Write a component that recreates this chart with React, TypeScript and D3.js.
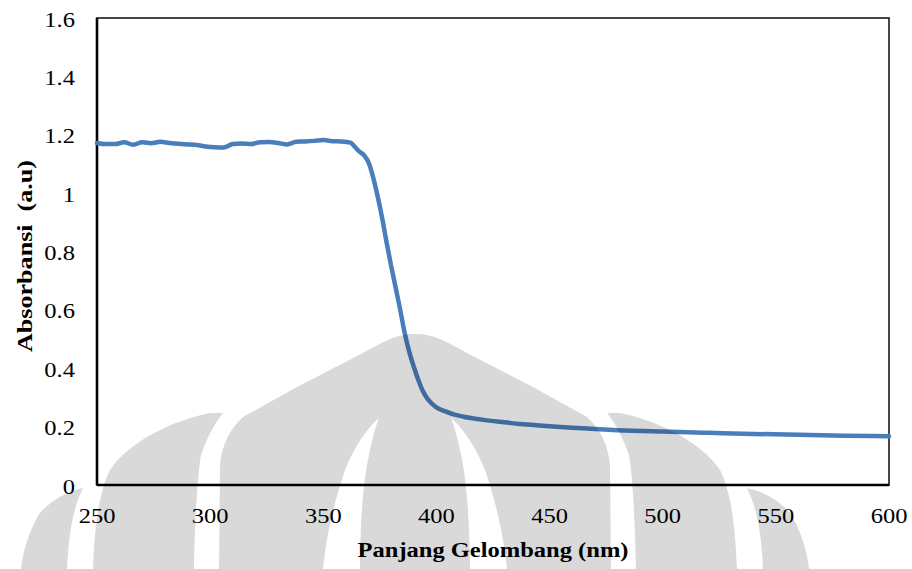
import React from 'react';
import * as d3 from 'd3';

const wavelength = [
  250, 254, 258, 262, 266, 270, 274, 278, 282, 286, 290, 294, 298, 302, 306,
  310, 314, 318, 322, 326, 330, 334, 338, 342, 346, 350, 354, 358, 362, 364,
  366, 368, 370, 372, 374, 376, 378, 380, 382, 384, 386, 388, 390, 392, 394,
  396, 398, 400, 404, 408, 412, 420, 430, 440, 450, 460, 470, 480, 500, 520,
  540, 560, 580, 600,
];
const absorbance = [
  1.172, 1.168, 1.168, 1.174, 1.166, 1.174, 1.171, 1.176, 1.172, 1.169, 1.167,
  1.165, 1.16, 1.157, 1.156, 1.168, 1.17, 1.168, 1.174, 1.175, 1.172, 1.167,
  1.176, 1.177, 1.179, 1.182, 1.178, 1.177, 1.173, 1.158, 1.142, 1.13, 1.105,
  1.055, 0.99, 0.915, 0.83, 0.75, 0.676, 0.6, 0.52, 0.456, 0.405, 0.36, 0.322,
  0.296, 0.279, 0.266, 0.252, 0.241, 0.234, 0.224, 0.215, 0.207, 0.201, 0.196,
  0.192, 0.188, 0.183, 0.179, 0.175, 0.172, 0.169, 0.167,
];
const xTicks = [250, 300, 350, 400, 450, 500, 550, 600];
const yTicks = [0, 0.2, 0.4, 0.6, 0.8, 1, 1.2, 1.4, 1.6];

const width = 912;
const height = 569;
const margin = { top: 18, right: 20, bottom: 84, left: 97 };
const font = '"Liberation Serif", "Times New Roman", serif';
const stretch = 1.14;

// watermark logo, drawn as right halves mirrored about logoCx
const logoCx = 415;
const dropPath =
  'M0,334 C20,334 32,342 52,353 L118,387 L172,417 C186,430 193,445 195,465 L196,569 L-196,569 L-195,465 C-193,445 -186,430 -172,417 L-118,387 L-52,353 C-32,342 -20,334 0,334 Z';
const crescentPath =
  'M36,418 C50,430 62,450 70,470 C80,500 88,530 92,569 L55,569 C55,530 52,480 46,455 C43,440 40,428 36,418 Z';
const wingPath =
  'M192,413 L205,413 C240,420 285,440 305,470 C315,490 320,520 322,569 L221,569 C220,520 218,480 214,455 C208,438 201,424 192,413 Z';
const featherPath =
  'M332,488 C350,492 366,502 376,514 C386,532 392,550 394,569 L348,569 C347,540 343,510 332,488 Z';

export default function App() {
  const x = d3
    .scaleLinear()
    .domain([250, 600])
    .range([margin.left, width - margin.right - 3]);
  const y = d3
    .scaleLinear()
    .domain([0, 1.6])
    .range([height - margin.bottom, margin.top]);

  const data = wavelength.map((w, i) => [w, absorbance[i]] as [number, number]);
  const line = d3
    .line<[number, number]>()
    .x(d => x(d[0]))
    .y(d => y(d[1]))
    .curve(d3.curveMonotoneX);

  const x0 = x(250);
  const x1 = x(600);
  const y0 = y(0);
  const y1 = y(1.6);

  return (
    <svg
      width={width}
      height={height}
      style={{ position: 'absolute', left: 0, top: 0, background: '#fff' }}>
      <rect x={0} y={0} width={width} height={height} fill='#fff' />
      <rect
        x={x0}
        y={y1}
        width={x1 - x0}
        height={y0 - y1}
        fill='none'
        stroke='#333'
        strokeWidth={1.8}
      />
      <line x1={x0} x2={x0} y1={y1} y2={y0} stroke='#000' strokeWidth={2.6} />
      <line x1={x0} x2={x1} y1={y0} y2={y0} stroke='#000' strokeWidth={2.6} />

      <path
        d={line(data) || ''}
        fill='none'
        stroke='#4a7ebb'
        strokeWidth={4.5}
        strokeLinejoin='round'
        strokeLinecap='round'
      />

      {yTicks.map(t => (
        <text
          key={t}
          transform={`translate(75, ${y(t) + 8.5}) scale(${stretch}, 1)`}
          textAnchor='end'
          fontFamily={font}
          fontSize={21.5}
          fill='#000'>
          {d3.format('~g')(t)}
        </text>
      ))}
      {xTicks.map(t => (
        <text
          key={t}
          transform={`translate(${x(t)}, 523) scale(${stretch}, 1)`}
          textAnchor='middle'
          fontFamily={font}
          fontSize={21.5}
          fill='#000'>
          {t}
        </text>
      ))}

      <text
        transform={`translate(${(x0 + x1) / 2}, 557) scale(${stretch}, 1)`}
        textAnchor='middle'
        fontFamily={font}
        fontWeight='bold'
        fontSize={21.5}
        fill='#000'>
        Panjang Gelombang (nm)
      </text>
      <text
        transform='translate(32, 256) rotate(-90)'
        textAnchor='middle'
        fontFamily={font}
        fontWeight='bold'
        fontSize={22}
        textLength={192}
        lengthAdjust='spacingAndGlyphs'
        fill='#000'
        style={{ whiteSpace: 'pre' }}>
        {'Absorbansi  (a.u)'}
      </text>

      <g
        transform={`translate(${logoCx}, 0)`}
        style={{ mixBlendMode: 'multiply' }}
        fill='#d9d9d9'>
        <path d={dropPath} />
        <path d={crescentPath} fill='#fff' />
        <path d={crescentPath} fill='#fff' transform='scale(-1, 1)' />
        <path d={wingPath} />
        <path d={wingPath} transform='scale(-1, 1)' />
        <path d={featherPath} />
        <path d={featherPath} transform='scale(-1, 1)' />
      </g>
    </svg>
  );
}
